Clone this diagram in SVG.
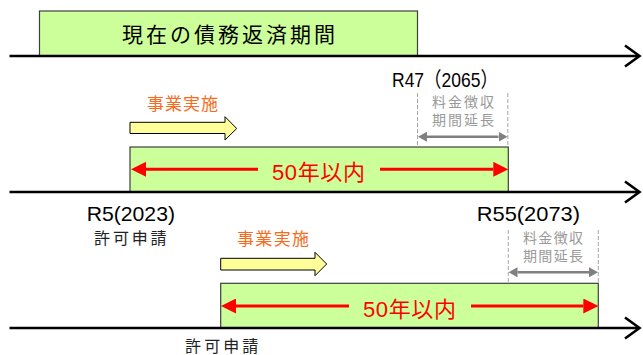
<svg xmlns="http://www.w3.org/2000/svg" width="643" height="355" viewBox="0 0 643 355">
<defs>
<style>
.box{fill:#CCFF99;stroke:#3F3F3F;stroke-width:1.2}
.axis{stroke:#000;stroke-width:2.6;fill:none}
.red{stroke:#FF0000;stroke-width:3;fill:none}
.gray{stroke:#808080;stroke-width:2.5;fill:none}
.dash{stroke:#A6A6A6;stroke-width:1;stroke-dasharray:4,2;fill:none}
.yarrow{fill:#FFFF99;stroke:#000;stroke-width:1}
.cjk{font-family:"Noto Sans CJK JP","Noto Sans CJK SC",sans-serif}
.lat{font-family:"Liberation Sans","Noto Sans CJK JP",sans-serif}
.t-title{font-size:21px;fill:#000}
.t-lbl{font-size:21px;fill:#000}
.t-gray{font-size:14px;fill:#999999}
.t-org{font-size:17px;fill:#F96B1A}
.t-blk{font-size:16px;fill:#222}
.t-red{font-size:22px;fill:#FF0000}
</style>
<marker id="rh" viewBox="0 0 15 15" refX="0" refY="7.5" markerWidth="15" markerHeight="15" markerUnits="userSpaceOnUse" orient="auto-start-reverse">
<path d="M0,0 L15,7.5 L0,15 Z" fill="#FF0000"/>
</marker>
<marker id="gh" viewBox="0 0 9 10" refX="0" refY="5" markerWidth="9" markerHeight="10" markerUnits="userSpaceOnUse" orient="auto-start-reverse">
<path d="M0,0 L9,5 L0,10 Z" fill="#808080"/>
</marker>
</defs>
<rect width="643" height="355" fill="#FFFFFF"/>

<g id="current-period">
<rect class="box" x="39.5" y="11" width="378" height="45"/>
<text class="cjk t-title" x="122" y="42" textLength="213">現在の債務返済期間</text>
</g>

<g id="plan1-work">
<path class="yarrow" d="M130,122.3 H225 V116.7 L236.7,128.5 L225,140 V133.5 H130 Z"/>
<text class="cjk t-org" x="182.5" y="109.5" text-anchor="middle" textLength="71">事業実施</text>
</g>

<g id="plan1-period">
<rect class="box" x="130" y="147" width="378.3" height="45"/>
<text class="lat t-red" x="318.4" y="180" text-anchor="middle" textLength="93">50年以内</text>
</g>

<g id="plan1-ext">
<text class="cjk t-gray" x="463" y="107" text-anchor="middle" textLength="62">料金徴収</text>
<text class="cjk t-gray" x="463" y="125.3" text-anchor="middle" textLength="62">期間延長</text>
</g>

<g id="plan2-work">
<path class="yarrow" d="M220.7,258.3 H315 V252.3 L326.7,264 L315,275.7 V270 H220.7 Z"/>
<text class="cjk t-org" x="273" y="244.5" text-anchor="middle" textLength="72">事業実施</text>
</g>

<g id="plan2-period">
<rect class="box" x="220.7" y="283.3" width="377.6" height="44.7"/>
<text class="lat t-red" x="409.5" y="316.6" text-anchor="middle" textLength="93">50年以内</text>
</g>

<g id="plan2-ext">
<text class="cjk t-gray" x="553" y="242.7" text-anchor="middle" textLength="60">料金徴収</text>
<text class="cjk t-gray" x="553" y="261.1" text-anchor="middle" textLength="60">期間延長</text>
</g>

<g id="labels">
<text class="lat t-lbl" x="392" y="86.5" textLength="106" lengthAdjust="spacingAndGlyphs">R47（2065）</text>
<text class="lat t-lbl" x="86.7" y="221" textLength="88.3" lengthAdjust="spacingAndGlyphs">R5(2023)</text>
<text class="cjk t-blk" x="130.3" y="244" text-anchor="middle" textLength="72.5">許可申請</text>
<text class="lat t-lbl" x="476.7" y="220.5" textLength="103.3" lengthAdjust="spacingAndGlyphs">R55(2073)</text>
<text class="cjk t-blk" x="221.7" y="351.5" text-anchor="middle" textLength="73.3">許可申請</text>
</g>

<g id="connectors">
<line class="axis" x1="9.5" y1="56" x2="639" y2="56"/>
<polyline class="axis" points="625,45.5 639.5,56 625,66.5"/>
<line class="axis" x1="9.5" y1="192" x2="639" y2="192"/>
<polyline class="axis" points="625,181.5 639.5,192 625,202.5"/>
<line class="axis" x1="9.5" y1="328" x2="639" y2="328"/>
<polyline class="axis" points="625,317.5 639.5,328 625,338.5"/>

<line class="red" x1="146" y1="169.3" x2="258" y2="169.3" marker-start="url(#rh)"/>
<line class="red" x1="380" y1="169.3" x2="493.3" y2="169.3" marker-end="url(#rh)"/>
<line class="red" x1="236" y1="306" x2="349" y2="306" marker-start="url(#rh)"/>
<line class="red" x1="471" y1="306" x2="583.3" y2="306" marker-end="url(#rh)"/>

<line class="dash" x1="417.5" y1="93" x2="417.5" y2="147"/>
<line class="dash" x1="507.8" y1="93" x2="507.8" y2="147"/>
<line class="gray" x1="427" y1="136.7" x2="498.5" y2="136.7" marker-start="url(#gh)" marker-end="url(#gh)"/>

<line class="dash" x1="508.3" y1="230" x2="508.3" y2="283"/>
<line class="dash" x1="598.3" y1="230" x2="598.3" y2="283"/>
<line class="gray" x1="517.5" y1="272.3" x2="589" y2="272.3" marker-start="url(#gh)" marker-end="url(#gh)"/>
</g>
</svg>
